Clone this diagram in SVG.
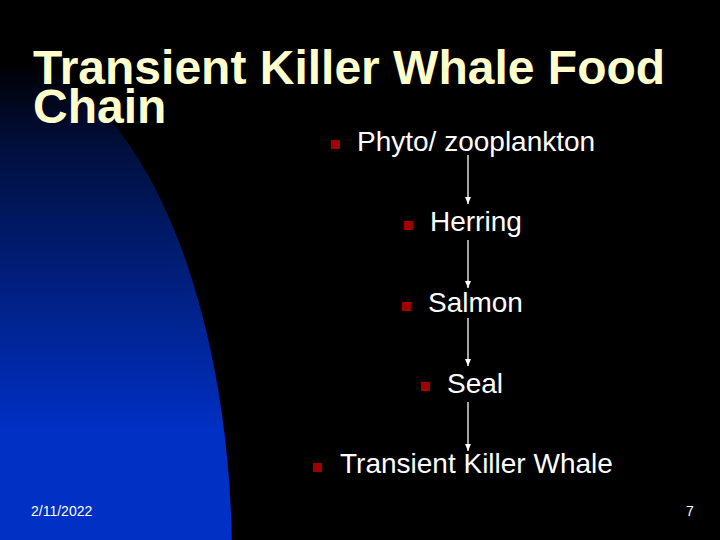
<svg xmlns="http://www.w3.org/2000/svg" width="720" height="540" viewBox="0 0 720 540">
<defs>
<linearGradient id="bg" x1="0" y1="60" x2="0" y2="430" gradientUnits="userSpaceOnUse">
<stop offset="0" stop-color="#000000"/>
<stop offset="0.25" stop-color="#001040"/>
<stop offset="1" stop-color="#0030C4"/>
</linearGradient>
<marker id="ah" markerWidth="8" markerHeight="8" refX="7" refY="4" orient="auto" markerUnits="userSpaceOnUse">
<path d="M0,1 L7,4 L0,7 Z" fill="#FFFFFF"/>
</marker>
<style>
.title{font-family:"Liberation Sans",Arial,sans-serif;font-weight:bold;font-size:48px;fill:#FFFFCC}
.body{font-family:"Liberation Sans",Arial,sans-serif;font-size:28px;fill:#FFFFFF}
.foot{font-family:"Liberation Sans",Arial,sans-serif;font-size:14px;fill:#FFFFFF}
.bullet{fill:#A00000}
.conn{stroke:#FFFFFF;stroke-width:1.3;fill:none;marker-end:url(#ah)}
</style>
</defs>
<rect x="0" y="0" width="720" height="540" fill="#000000"/>
<ellipse cx="0" cy="560" rx="232" ry="500" fill="url(#bg)"/>
<text class="title" x="33" y="84">Transient Killer Whale Food</text>
<text class="title" x="33" y="123">Chain</text>
<g id="connectors">
<line class="conn" x1="468" y1="155" x2="468" y2="204"/>
<line class="conn" x1="468" y1="240" x2="468" y2="288"/>
<line class="conn" x1="468" y1="318" x2="468" y2="366"/>
<line class="conn" x1="468" y1="402" x2="468" y2="451"/>
</g>
<g id="phyto">
<rect class="bullet" x="331" y="140" width="9" height="9"/>
<text class="body" x="357" y="151">Phyto/ zooplankton</text>
</g>
<g id="herring">
<rect class="bullet" x="404" y="221" width="9" height="9"/>
<text class="body" x="430" y="231">Herring</text>
</g>
<g id="salmon">
<rect class="bullet" x="402" y="302" width="9" height="9"/>
<text class="body" x="428" y="312">Salmon</text>
</g>
<g id="seal">
<rect class="bullet" x="421" y="382" width="9" height="9"/>
<text class="body" x="447" y="393">Seal</text>
</g>
<g id="whale">
<rect class="bullet" x="313" y="463" width="9" height="9"/>
<text class="body" x="340" y="473">Transient Killer Whale</text>
</g>
<text class="foot" x="31" y="516">2/11/2022</text>
<text class="foot" x="686" y="516">7</text>
</svg>
